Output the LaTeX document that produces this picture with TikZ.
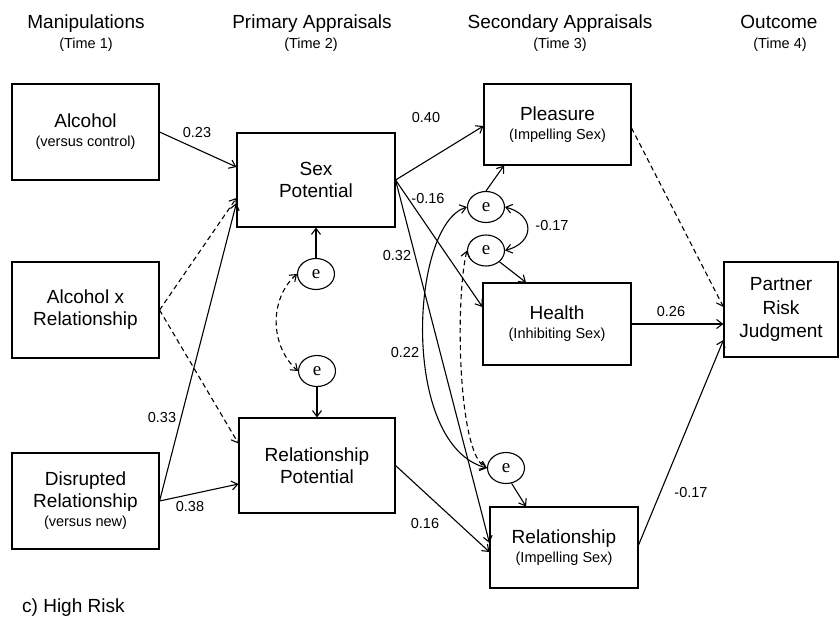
\documentclass[tikz,border=0pt]{standalone}
\usepackage{fontspec}
\setmainfont{Liberation Sans}
\newfontfamily\serifface{Liberation Serif}
\usetikzlibrary{arrows.meta,shapes.geometric,calc}
\newcommand\smalltxt[1]{{\fontsize{14.5}{17}\selectfont #1}}
\begin{document}
\begin{tikzpicture}[x=1pt,y=-1pt,
  box/.style={draw,line width=1.1pt,align=center,inner sep=0pt,font=\fontsize{19}{22}\selectfont},
  err/.style={draw,ellipse,line width=1.1pt,minimum width=37pt,minimum height=31pt,inner sep=0pt,font=\serifface\fontsize{19}{20}\selectfont},
  arr/.style={line width=1.1pt,-{Straight Barb[length=6pt,width=9pt]}},
  dbl/.style={line width=1.1pt,{Straight Barb[length=6pt,width=9pt]}-{Straight Barb[length=6pt,width=9pt]}},
  dsh/.style={dash pattern=on 5pt off 3.5pt},
  lbl/.style={font=\fontsize{14.5}{16}\selectfont,inner sep=0pt},
  hdr/.style={font=\fontsize{19}{22}\selectfont,inner sep=0pt,anchor=base},
  sub/.style={font=\fontsize{14.5}{16}\selectfont,inner sep=0pt,anchor=base}]
\useasboundingbox (0,0) rectangle (840,616);

% headers
\node[hdr] (h1) at (86,28) {Manipulations};
\node[sub] (t1) at (86,48) {(Time 1)};
\node[hdr] (h2) at (312,28) {Primary Appraisals};
\node[sub] (t2) at (311,48) {(Time 2)};
\node[hdr] (h3) at (560,28) {Secondary Appraisals};
\node[sub] (t3) at (560,48) {(Time 3)};
\node[hdr] (h4) at (779,28) {Outcome};
\node[sub] (t4) at (780,48) {(Time 4)};
\node[hdr,anchor=base west] (cap) at (22,612) {c) High Risk};

% boxes
\node[box,minimum width=147pt,minimum height=96pt] (alc) at (85.5,132) {Alcohol\\[-3pt]\smalltxt{(versus control)}};
\node[box,minimum width=147pt,minimum height=96pt] (axr) at (85.5,310) {Alcohol x\\Relationship};
\node[box,minimum width=147pt,minimum height=96pt] (dis) at (85.5,501) {Disrupted\\Relationship\\[-3pt]\smalltxt{(versus new)}};
\node[box,minimum width=158pt,minimum height=94pt] (sex) at (316,180) {Sex\\Potential};
\node[box,minimum width=156pt,minimum height=95pt] (relp) at (317,465.5) {Relationship\\Potential};
\node[box,minimum width=147pt,minimum height=81pt] (plea) at (557.5,124.5) {Pleasure\\[-3pt]\smalltxt{(Impelling Sex)}};
\node[box,minimum width=148pt,minimum height=82pt] (hea) at (557,324) {Health\\[-3pt]\smalltxt{(Inhibiting Sex)}};
\node[box,minimum width=148pt,minimum height=81pt] (rel) at (564,547.5) {Relationship\\[-3pt]\smalltxt{(Impelling Sex)}};
\node[box,minimum width=114pt,minimum height=95pt,font=\fontsize{19}{23.5}\selectfont] (prj) at (781,309.5) {Partner\\Risk\\Judgment};

% error terms
\node[err] (e1) at (316,274) {e};
\node[err] (e2) at (317,371) {e};
\node[err] (e3) at (486,207) {e};
\node[err] (e4) at (486,250.5) {e};
\node[err] (e5) at (506,468) {e};

% manipulations -> primary
\draw[arr] (alc.east) -- ([yshift=13pt]sex.west);
\draw[arr,dsh] (axr.east) -- ([yshift=-18pt]sex.west);
\draw[arr,dsh] (axr.east) -- ([yshift=22pt]relp.west);
\draw[arr] (dis.east) -- ([yshift=-23pt]sex.west);
\draw[arr] (dis.east) -- ([yshift=-18.5pt]relp.west);

% primary errors
\draw[arr] (e1) -- (e1 |- sex.south);
\draw[arr] (e2) -- (e2 |- relp.north);
\draw[dbl,dsh] (e1.west) .. controls +(-28,25) and +(-28,-25) .. (e2.west);

% primary -> secondary
\draw[arr] (sex.east) -- ([yshift=-1.5pt]plea.west);
\draw[arr] (sex.east) -- ([yshift=17pt]hea.west);
\draw[arr] (sex.east) -- ([yshift=4.5pt]rel.west);
\draw[arr] (relp.east) -- ([yshift=-4.5pt]rel.west);

% secondary errors
\draw[arr] (e3.north) -- ([xshift=-53.5pt]plea.south);
\draw[arr] (e4.-40) -- ([xshift=-31pt]hea.north);
\draw[arr] (e5.-70) -- ([xshift=-38pt]rel.north);
\draw[dbl] (e3.east) .. controls +(30,8) and +(30,-8) .. (e4.east);
\draw[dbl] (e3.west) .. controls +(-57,18) and +(-87,-23) .. (e5.west);
\draw[dbl,dsh] (e4.west) .. controls +(-12,50) and +(-29,-13) .. (e5.west);

% secondary -> outcome
\draw[arr,dsh] ([yshift=-3.5pt]plea.east) -- ([yshift=2.5pt]prj.west);
\draw[arr] (hea.east) -- (hea.east -| prj.west);
\draw[arr] ([yshift=2.5pt]rel.east) -- ([yshift=-30.5pt]prj.west);

% labels
\node[lbl] (l1) at (197,133) {0.23};
\node[lbl] (l2) at (162,418) {0.33};
\node[lbl] (l3) at (190,507) {0.38};
\node[lbl] (l4) at (426,118) {0.40};
\node[lbl] (l5) at (428,199) {-0.16};
\node[lbl] (l6) at (397,256) {0.32};
\node[lbl] (l7) at (405,353) {0.22};
\node[lbl] (l8) at (425,523) {0.16};
\node[lbl] (l9) at (552,226) {-0.17};
\node[lbl] (l10) at (671,312) {0.26};
\node[lbl] (l11) at (691,493) {-0.17};
\end{tikzpicture}
\end{document}
